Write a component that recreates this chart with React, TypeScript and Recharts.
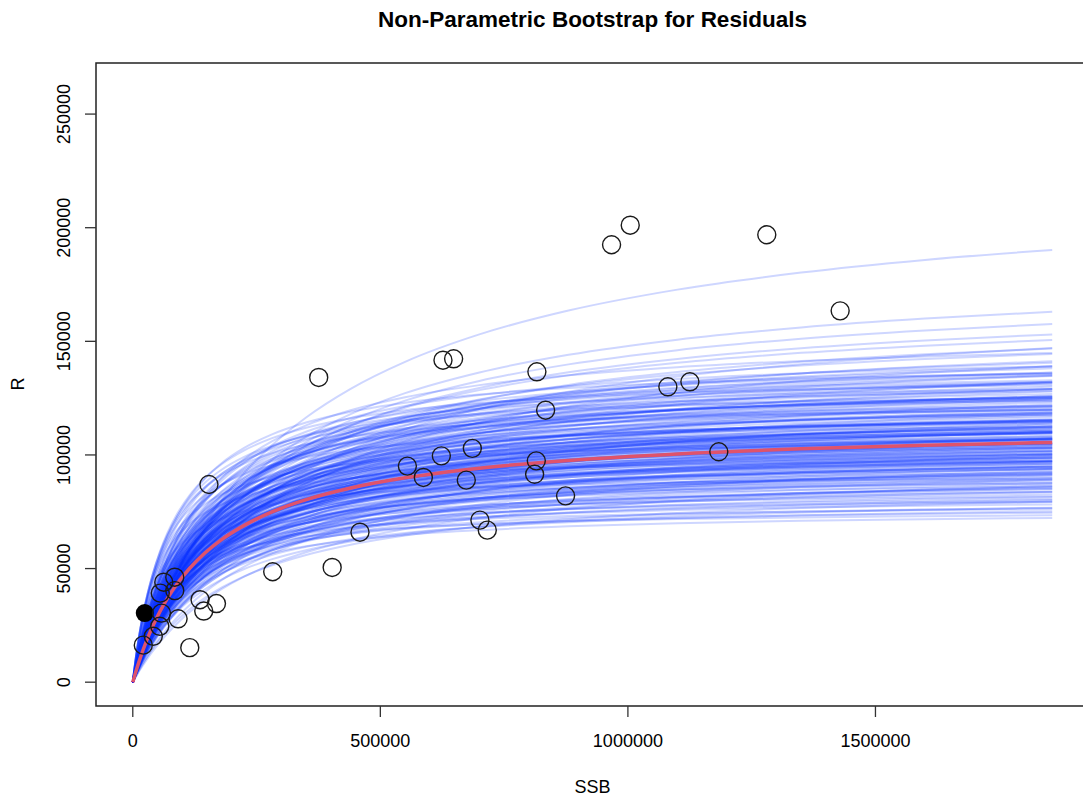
import React from "react";
import { ComposedChart, Line, Scatter, XAxis, YAxis, ReferenceArea } from "recharts";

// observed stock-recruit pairs (open circles)
const ssbObs = [
  21200, 41400, 54500, 57900, 55500, 84800, 62600, 84800, 91500, 115100,
  135900, 143300, 169000, 153800, 282600, 402700,
  375500, 626500, 648000, 816200, 833800, 685800, 623200, 554600, 586900, 673600,
  815000, 811600, 874100, 701100, 716000, 458900,
  967000, 1004700, 1280500, 1428700, 1080700, 1125200, 1183600,
];
const recObs = [
  16300, 20200, 24600, 30400, 39200, 40300, 44000, 46200, 27900, 15200,
  36300, 31300, 34600, 87000, 48600, 50500,
  134100, 141700, 142300, 136600, 119700, 102900, 99600, 95100, 90100, 88900,
  97400, 91500, 82000, 71300, 66900, 66000,
  192500, 201100, 196900, 163400, 130000, 132200, 101400,
];

// highlighted point (filled)
const ssbMark = [24200];
const recMark = [30400];

// Beverton-Holt fit R = a*S/(b+S), and bootstrap refits in thousands
const fitA = 113800;
const fitB = 146000;
const bootA = [
  223, 185, 178, 172, 168, 165, 160, 158, 155, 150, 152, 148, 145, 146, 142, 140, 138, 136,
  135, 132, 130, 130, 128, 127, 126, 125, 124, 123, 122, 121, 120, 119, 118, 117, 117, 116,
  115, 115, 114, 114, 113, 113, 112, 112, 111, 111, 110, 110, 109, 109, 108, 108, 107, 107,
  106, 106, 105, 105, 104, 104, 103, 103, 102, 102, 101, 101, 100, 100, 99, 98, 98, 97,
  96, 95, 94, 93, 92, 91, 90, 89, 88, 87, 86, 85, 84, 83, 82, 80, 79, 76, 76,
  140, 135, 133, 131, 129, 128, 127, 126, 125, 124, 123, 122, 121, 120, 120, 119, 118, 118,
  117, 117, 116, 116, 115, 115, 114, 114, 113, 113, 112, 112, 111, 111, 110, 110, 109, 109,
  108, 108, 107, 107, 106, 106, 105, 105, 104, 104, 103, 103, 102, 102, 101, 101, 100, 100,
  99, 98, 97, 96, 95, 94, 93, 92, 91, 90, 88, 87, 85, 83, 81, 78,
  145, 150, 160, 170, 138, 128, 118, 112, 105, 98, 155, 148, 142, 136, 130, 124, 116, 108,
  100, 92,
  150, 148, 146, 144, 142, 141, 140, 138, 137, 136, 135, 134, 133, 132, 131, 130, 129, 128,
  127, 126, 125, 124, 123, 122, 121, 120, 119, 118, 117, 116, 145, 140, 135, 130, 126, 132,
  138, 128, 122, 118,
];
const bootB = [
  320, 250, 240, 230, 215, 230, 200, 220, 190, 210, 175, 160, 190, 140, 170, 120, 180, 150,
  100, 165, 130, 90, 150, 110, 170, 80, 140, 120, 160, 100, 135, 150, 125, 110, 170, 140,
  95, 130, 155, 120, 145, 100, 135, 165, 115, 150, 125, 180, 140, 105, 160, 120, 130, 190,
  145, 110, 170, 125, 135, 200, 115, 155, 140, 100, 180, 125, 150, 110, 165, 130, 190, 95,
  145, 120, 175, 105, 140, 160, 85, 120, 200, 100, 135, 75, 110, 150, 90, 120, 70, 65, 95,
  110, 140, 120, 105, 160, 95, 135, 115, 150, 100, 130, 110, 145, 90, 120, 160, 105, 135,
  95, 125, 150, 110, 140, 85, 130, 100, 160, 115, 125, 90, 140, 105, 150, 115, 130, 95,
  140, 110, 120, 155, 100, 135, 115, 145, 90, 125, 160, 105, 130, 115, 145, 95, 120, 165,
  105, 140, 115, 130, 100, 150, 115, 95, 130, 110, 90, 125, 100, 80, 105, 85,
  230, 250, 280, 290, 200, 210, 220, 230, 240, 250, 130, 120, 85, 75, 70, 65, 60, 55,
  50, 50,
  160, 180, 150, 170, 140, 190, 160, 130, 175, 150, 120, 165, 140, 110, 180, 150, 125, 100,
  165, 140, 115, 190, 150, 125, 105, 170, 140, 115, 180, 130, 120, 100, 85, 75, 210, 220,
  240, 230, 200, 190,
];

const ssbGrid = [
  0, 2000, 5000, 10000, 15000, 20000, 30000, 40000, 55000, 70000, 90000, 115000, 145000,
  180000, 225000, 280000, 350000, 440000, 550000, 700000, 880000, 1100000, 1350000,
  1600000, 1857000,
];

const xTicks = [0, 500000, 1000000, 1500000];
const yTicks = [0, 50000, 100000, 150000, 200000, 250000];

const font = '"Liberation Sans", Arial, Helvetica, sans-serif';

const bhCurve = (a: number, b: number) => ssbGrid.map((s) => ({ ssb: s, r: (a * s) / (b + s) }));

const obsData = ssbObs.map((s, i) => ({ ssb: s, r: recObs[i] }));
const markData = ssbMark.map((s, i) => ({ ssb: s, r: recMark[i] }));
const fitData = bhCurve(fitA, fitB);
const bootData = bootA.map((a, i) => bhCurve(a * 1000, bootB[i] * 1000));

const XTick = (props: any) => (
  <text x={props.x} y={746.5} textAnchor="middle" fontSize={18} fontFamily={font} fill="#000">
    {props.payload.value}
  </text>
);

const YTick = (props: any) => (
  <text
    x={70}
    y={props.y}
    textAnchor="middle"
    fontSize={18}
    fontFamily={font}
    fill="#000"
    transform={`rotate(-90, 70, ${props.y})`}
  >
    {props.payload.value}
  </text>
);

export default function App() {
  return (
    <div style={{ position: "absolute", left: 0, top: 0, width: 1083, height: 798, overflow: "hidden", background: "#fff" }}>
      <ComposedChart width={1095} height={798} margin={{ top: 63, right: 6, bottom: 0, left: 0 }}>
        <XAxis
          dataKey="ssb"
          type="number"
          domain={[-74300, 1931300]}
          ticks={xTicks}
          interval={0}
          allowDataOverflow
          height={92}
          tickSize={11}
          axisLine={false}
          tickLine={{ stroke: "#333", strokeWidth: 1.3 }}
          tick={<XTick />}
        />
        <YAxis
          dataKey="r"
          type="number"
          domain={[-10480, 272480]}
          ticks={yTicks}
          interval={0}
          allowDataOverflow
          width={96}
          tickSize={11}
          axisLine={false}
          tickLine={{ stroke: "#333", strokeWidth: 1.3 }}
          tick={<YTick />}
        />
        <Scatter
          data={markData}
          dataKey="r"
          isAnimationActive={false}
          shape={(p: any) => <circle cx={p.cx} cy={p.cy} r={9} fill="#000" />}
        />
        <Scatter
          data={obsData}
          dataKey="r"
          isAnimationActive={false}
          shape={(p: any) => (
            <circle cx={p.cx} cy={p.cy} r={9} fill="none" stroke="#1a1a1a" strokeWidth={1.4} />
          )}
        />
        {bootData.map((d, i) => (
          <Line
            key={i}
            data={d}
            dataKey="r"
            type="monotone"
            stroke="#0a30ff"
            strokeOpacity={0.2}
            strokeWidth={2}
            dot={false}
            activeDot={false}
            isAnimationActive={false}
          />
        ))}
        <Line
          data={fitData}
          dataKey="r"
          type="monotone"
          stroke="#df536b"
          strokeWidth={3.5}
          dot={false}
          activeDot={false}
          isAnimationActive={false}
        />
        <ReferenceArea
          x1={-74300}
          x2={1931300}
          y1={-10480}
          y2={272480}
          fill="none"
          stroke="#222"
          strokeWidth={1.5}
        />
      </ComposedChart>
      <svg width={1083} height={798} style={{ position: "absolute", left: 0, top: 0, pointerEvents: "none" }}>
        <text x={592.5} y={26.9} textAnchor="middle" fontSize={22.5} fontWeight="bold" fontFamily={font}>
          Non-Parametric Bootstrap for Residuals
        </text>
        <text x={592.5} y={793.3} textAnchor="middle" fontSize={18} fontFamily={font}>
          SSB
        </text>
        <text x={24.3} y={384} textAnchor="middle" fontSize={18} fontFamily={font} transform="rotate(-90, 24.3, 384)">
          R
        </text>
      </svg>
    </div>
  );
}
